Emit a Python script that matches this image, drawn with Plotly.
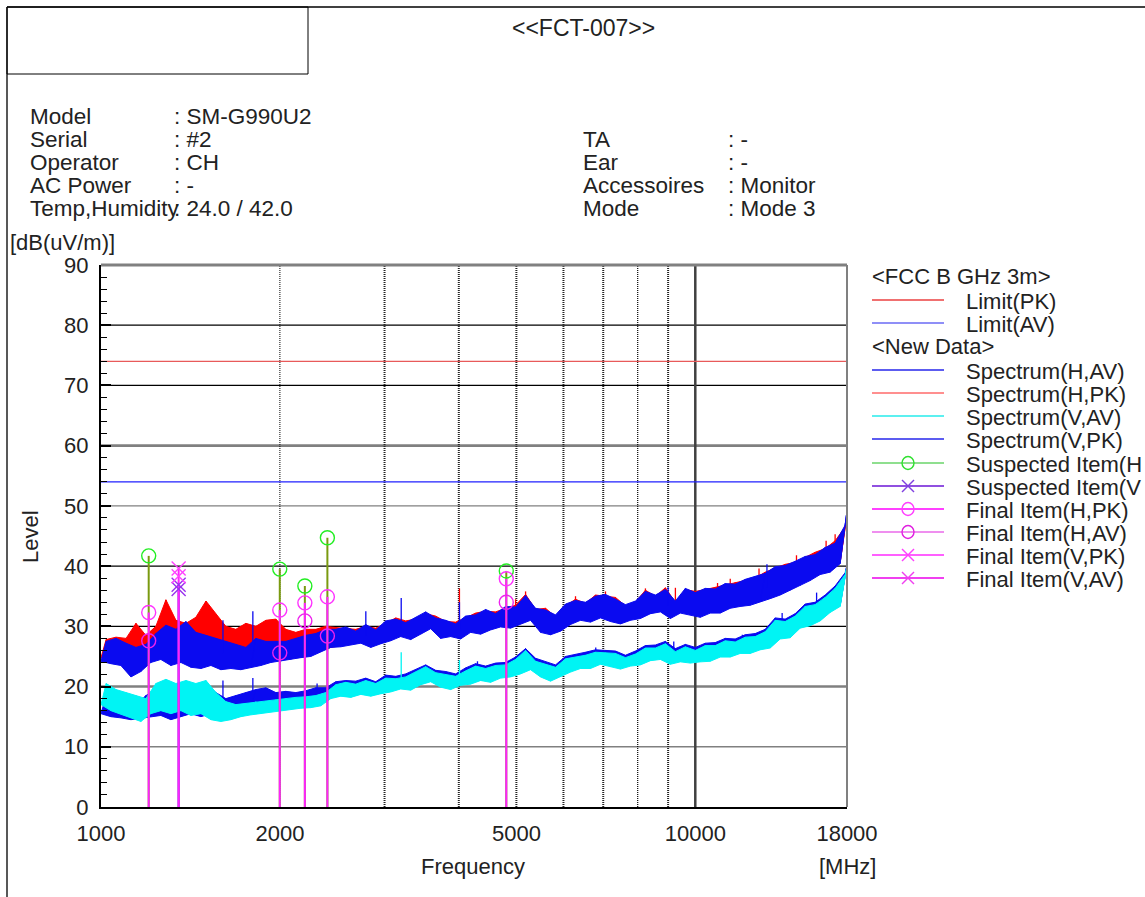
import plotly.graph_objects as go
import math

# ---------------- data ----------------
freq_mhz = [
    1000, 1020, 1039, 1060, 1080, 1102, 1123, 1145, 1167, 1190,
    1213, 1237, 1261, 1286, 1311, 1337, 1363, 1390, 1417, 1444,
    1473, 1502, 1531, 1561, 1591, 1622, 1654, 1686, 1719, 1753,
    1787, 1822, 1858, 1894, 1931, 1969, 2007, 2046, 2086, 2127,
    2169, 2211, 2254, 2298, 2343, 2389, 2436, 2483, 2532, 2581,
    2632, 2683, 2736, 2789, 2844, 2899, 2956, 3014, 3072, 3133,
    3194, 3256, 3320, 3385, 3451, 3518, 3587, 3657, 3728, 3801,
    3876, 3951, 4028, 4107, 4187, 4269, 4353, 4438, 4524, 4613,
    4703, 4795, 4889, 4984, 5081, 5181, 5282, 5385, 5490, 5598,
    5707, 5819, 5932, 6048, 6166, 6287, 6410, 6535, 6663, 6793,
    6926, 7061, 7199, 7340, 7483, 7629, 7778, 7930, 8085, 8243,
    8404, 8569, 8736, 8907, 9081, 9258, 9439, 9623, 9812, 10003,
    10194, 10394, 10597, 10804, 11015, 11230, 11450, 11673, 11901, 12134,
    12371, 12613, 12860, 13111, 13367, 13628, 13895, 14166, 14443, 14725,
    15013, 15306, 15605, 15910, 16221, 16538, 16861, 17190, 17526, 17869,
    18000,
]

# sweep readings: even index = lower edge of the trace, odd index = upper edge
spec_v_pk = [
    24.2, 27.5, 23.8, 28.0, 23.5, 27.2, 21.6, 26.5, 22.5, 27.0,
    24.0, 28.8, 24.5, 30.2, 23.5, 29.5, 24.0, 30.8, 23.2, 29.0,
    23.0, 28.5, 23.5, 28.0, 22.8, 27.5, 23.0, 27.0, 22.8, 26.5,
    23.2, 28.0, 23.5, 27.5, 24.0, 27.5, 24.2, 27.5, 24.5, 28.0,
    24.8, 28.5, 25.0, 28.8, 25.8, 29.5, 26.5, 29.5,
    26.6, 29.9, 26.9, 29.2, 27.2, 30.3, 26.5, 29.4, 27.1, 30.9, 27.6, 31.2,
    28.3, 30.6, 27.8, 31.5, 28.7, 32.4, 29.6, 31.4, 28.0, 31.0, 28.3, 30.4,
    27.9, 31.7, 29.0, 31.9, 28.7, 32.8, 29.4, 32.1, 29.9, 33.3, 29.7, 33.2,
    30.4, 35.1, 31.0, 33.0, 29.0, 32.7, 28.6, 31.9, 29.2, 33.7, 30.3, 34.3,
    31.0, 34.0, 30.7, 35.0, 31.4, 35.3, 30.8, 34.5, 30.4, 33.6, 31.0, 34.2,
    31.3, 35.8, 32.1, 35.2, 32.4, 36.1, 31.3, 34.2, 32.2, 36.3, 31.9, 35.6,
    31.5, 36.3, 32.2, 36.2, 32.2, 37.1, 33.0, 37.0, 33.3, 37.8, 33.5, 38.3,
    34.1, 38.8, 34.6, 39.9, 35.2, 40.1, 36.0, 40.8, 36.8, 41.6, 37.6, 41.9,
    38.6, 43.1, 39.0, 43.8, 40.4, 46.8, 49.2,
]
spec_h_pk = [
    24.8, 27.8, 24.2, 28.2, 24.8, 28.0, 24.5, 30.5, 25.0, 28.5,
    25.5, 30.0, 25.0, 34.4, 25.5, 31.0, 24.8, 30.5, 25.5, 31.5,
    25.5, 34.2, 26.0, 32.0, 25.2, 30.0, 24.8, 29.5, 25.0, 30.5,
    25.5, 30.0, 25.8, 31.0, 26.0, 31.2, 25.5, 29.5, 25.5, 29.0,
    25.5, 29.5, 25.8, 29.5, 26.0, 30.0, 26.5, 29.8,
    26.9, 29.6, 27.1, 29.5, 27.4, 30.0, 26.8, 29.7, 27.3, 30.5, 27.9, 31.4,
    28.5, 30.9, 28.0, 31.2, 28.9, 32.1, 29.8, 31.7, 28.2, 30.8, 28.5, 30.7,
    28.1, 31.4, 29.2, 32.2, 28.9, 32.5, 29.6, 32.4, 30.1, 33.0, 29.9, 33.5,
    30.6, 35.3, 31.2, 32.8, 29.2, 33.0, 28.8, 31.6, 29.4, 33.4, 30.5, 34.5,
    31.2, 33.8, 30.9, 35.2, 31.6, 35.0, 31.0, 34.8, 30.6, 33.4, 31.2, 34.0,
    31.5, 36.0, 32.3, 35.0, 32.6, 36.4, 31.5, 34.0, 32.4, 36.1, 32.1, 35.8,
    31.7, 36.1, 32.4, 36.5, 32.4, 36.9, 33.2, 37.3, 33.5, 37.6, 33.7, 38.0,
    34.3, 39.0, 34.8, 39.7, 35.4, 40.3, 36.2, 40.6, 37.0, 41.4, 37.8, 42.3,
    38.8, 42.9, 39.2, 44.2, 40.6, 46.5, 48.5,
]
spec_v_av = [
    17.0, 20.5, 16.0, 19.5, 15.5, 19.0, 14.8, 18.5, 14.2, 18.0,
    15.5, 20.5, 16.0, 21.2, 15.5, 20.5, 16.0, 21.0, 15.2, 20.5,
    15.5, 21.0, 14.5, 19.0, 14.2, 17.5, 14.5, 17.0, 15.0, 17.2,
    15.3, 17.5, 15.5, 17.6, 15.8, 17.8, 16.0, 18.0, 16.2, 18.2,
    16.4, 18.3, 16.5, 18.5, 16.8, 19.0,
    18.0, 20.3, 18.4, 20.7, 18.2, 20.4, 18.7, 21.0, 18.4, 20.5, 18.8, 21.4, 19.1, 21.3,
    19.6, 21.6, 19.4, 22.4, 20.3, 23.3, 20.8, 22.3, 19.9, 22.0, 19.5, 21.7,
    20.2, 22.6, 20.4, 23.4, 21.0, 23.0, 20.7, 23.5, 21.4, 23.6, 21.6, 24.5,
    22.1, 26.0, 22.8, 24.2, 21.6, 23.7, 20.9, 23.2, 21.6, 24.6, 22.4, 24.9,
    23.0, 25.2, 23.0, 25.7, 23.7, 25.6, 23.3, 25.5, 22.9, 24.8, 23.4, 25.4,
    23.6, 26.4, 24.3, 26.4, 24.5, 27.1, 23.7, 25.8, 24.1, 26.6, 23.9, 26.0,
    24.1, 26.8, 24.2, 26.8, 24.9, 27.6, 24.9, 27.4, 25.5, 28.2, 25.5, 28.3,
    26.1, 29.1, 26.4, 31.0, 27.9, 30.8, 28.1, 31.7, 29.7, 33.3, 30.1, 33.6,
    30.9, 34.8, 32.3, 36.3, 33.3, 38.6, 40.0,
]
spec_h_av = [
    15.5, 18.5, 15.0, 18.0, 14.8, 17.8, 14.5, 17.0, 14.8, 18.5,
    15.0, 19.5, 15.2, 18.5, 14.5, 19.0, 15.0, 20.0, 15.5, 19.5,
    15.0, 20.5, 15.5, 19.0, 15.0, 18.0, 15.5, 18.5, 16.0, 19.0,
    16.5, 19.5, 16.8, 19.8, 16.5, 19.0, 17.0, 19.2, 17.0, 19.0,
    17.0, 19.3, 17.2, 19.8, 17.5, 19.8,
    18.2, 20.8, 18.5, 21.0, 18.4, 20.9, 18.8, 21.4, 18.6, 20.8, 18.9, 21.9, 19.3, 21.7,
    19.8, 22.1, 19.6, 22.8, 20.4, 23.6, 21.0, 22.7, 20.1, 22.5, 19.7, 22.1,
    20.4, 23.1, 20.6, 23.8, 21.1, 23.4, 20.9, 23.9, 21.6, 24.0, 21.8, 24.9,
    22.3, 26.3, 23.0, 24.7, 21.8, 24.1, 21.1, 23.6, 21.8, 25.0, 22.6, 25.3,
    23.2, 25.7, 23.2, 26.1, 23.9, 26.0, 23.5, 25.9, 23.1, 25.2, 23.6, 25.9,
    23.8, 26.8, 24.5, 26.9, 24.7, 27.5, 23.9, 26.3, 24.3, 27.0, 24.1, 26.5,
    24.3, 27.2, 24.4, 27.3, 25.1, 28.0, 25.1, 27.9, 25.7, 28.6, 25.7, 28.8,
    26.3, 29.5, 26.6, 31.4, 28.1, 31.2, 28.3, 32.1, 29.9, 33.7, 30.3, 34.0,
    31.1, 35.2, 32.5, 36.7, 33.5, 38.9, 40.2,
]

# isolated single-sample spikes (frequency, foot, tip)
spike_h_pk_f = [4010, 4984, 5181, 6287, 7061, 8243, 9258, 10900, 11450, 12800, 14800, 16600, 17190]
spike_h_pk_lo = [29.5, 31.5, 32.0, 32.5, 33.0, 33.5, 33.5, 34.0, 34.5, 36.0, 38.5, 40.5, 41.5]
spike_h_pk_hi = [36.3, 34.5, 35.8, 35.0, 35.8, 36.3, 36.4, 37.2, 37.9, 39.6, 41.8, 44.2, 45.3]
spike_v_pk_f = [1604, 1801, 2790, 3200, 4010, 9000, 13200]
spike_v_pk_lo = [25.5, 26.0, 28.5, 29.0, 29.5, 33.5, 36.5]
spike_v_pk_hi = [31.0, 32.5, 32.5, 34.7, 34.0, 36.5, 40.3]
spike_h_av_f = [1604, 1801, 2310, 4300, 6800, 9200, 12000, 14000, 16000]
spike_h_av_lo = [17.5, 18.0, 19.0, 21.5, 24.0, 25.0, 26.0, 29.0, 32.0]
spike_h_av_hi = [21.0, 21.4, 20.5, 24.2, 26.5, 27.5, 28.6, 32.2, 35.6]
spike_v_av_f = [3200, 4010]
spike_v_av_lo = [20.5, 21.5]
spike_v_av_hi = [25.7, 24.4]

limit_f = [1000, 18000]
limit_pk = [74, 74]
limit_av = [54, 54]

susp_h_f = [1203, 1999, 2203, 2404, 4808]
susp_h_v = [41.7, 39.5, 36.7, 44.7, 39.2]
susp_v_f = [1351, 1351]
susp_v_v = [36.9, 36.2]
final_h_f = [1203, 1999, 2203, 2404, 4808]
final_h_pk = [32.3, 32.7, 33.9, 34.9, 37.9]
final_h_av = [27.6, 25.6, 30.9, 28.4, 34.0]
final_v_f = [1351]
final_v_pk = [39.6]
final_v_av = [38.3]

x_tick_vals = [1000, 2000, 5000, 10000, 18000]
x_tick_text = ["1000", "2000", "5000", "10000", "18000"]
y_tick_vals = [0, 10, 20, 30, 40, 50, 60, 70, 80, 90]
x_grid_f = [2000, 3000, 4000, 5000, 6000, 7000, 8000, 9000, 10000]

info_left = [("Model", ": SM-G990U2"), ("Serial", ": #2"), ("Operator", ": CH"),
             ("AC Power", ": -"), ("Temp,Humidity", ": 24.0 / 42.0")]
info_right = [("TA", ": -"), ("Ear", ": -"), ("Accessoires", ": Monitor"), ("Mode", ": Mode 3")]

# ---------------- geometry helpers (pixel -> paper) ----------------
W, H = 1145, 897
L, R, T, B = 101, 847, 265, 807
FONT = "Liberation Sans, Arial, sans-serif"


def px(x):
    return (x - L) / (R - L)


def py(y):
    return (B - y) / (B - T)


fig = go.Figure()

# vertical grid lines (drawn first so that they sit under the data)
grid_style = {2000: ("#000000", 1, "1px,1px"), 8000: ("#000000", 1.2, "1px,1px"),
              10000: ("#404040", 2.5, "solid")}
for fv in x_grid_f:
    c, w, d = grid_style.get(fv, ("#222222", 2, "1px,1px"))
    fig.add_trace(go.Scatter(x=[fv, fv], y=[0, 90], mode="lines", line=dict(color=c, width=w, dash=d),
                             hoverinfo="skip", showlegend=False))

# limit lines
fig.add_trace(go.Scatter(x=limit_f, y=limit_pk, mode="lines", line=dict(color="#e85a5a", width=1.3),
                         hoverinfo="skip", showlegend=False))
fig.add_trace(go.Scatter(x=limit_f, y=limit_av, mode="lines", line=dict(color="#2020ff", width=1.3),
                         hoverinfo="skip", showlegend=False))


def add_band(f, v, color):
    xs = f[1::2] + f[0::2][::-1]
    ys = v[1::2] + v[0::2][::-1]
    fig.add_trace(go.Scatter(x=xs, y=ys, mode="lines", fill="toself", fillcolor=color,
                             line=dict(color=color, width=1), hoverinfo="skip", showlegend=False))
    fig.add_trace(go.Scatter(x=f, y=v, mode="lines", line=dict(color=color, width=1),
                             hoverinfo="skip", showlegend=False))


def add_spikes(f, lo, hi, color, width=1.3):
    xs, ys = [], []
    for a, b, c in zip(f, lo, hi):
        xs += [a, a, None]
        ys += [b, c, None]
    fig.add_trace(go.Scatter(x=xs, y=ys, mode="lines", line=dict(color=color, width=width),
                             hoverinfo="skip", showlegend=False))


BLUE = "#0a0af0"
RED = "#ff0000"
CYAN = "#00f4f4"

add_band(freq_mhz, spec_h_av, BLUE)
add_spikes(spike_h_av_f, spike_h_av_lo, spike_h_av_hi, BLUE)
add_band(freq_mhz, spec_h_pk, RED)
add_spikes(spike_h_pk_f, spike_h_pk_lo, spike_h_pk_hi, RED)
add_band(freq_mhz, spec_v_av, CYAN)
add_spikes(spike_v_av_f, spike_v_av_lo, spike_v_av_hi, CYAN)
add_band(freq_mhz, spec_v_pk, BLUE)
add_spikes(spike_v_pk_f, spike_v_pk_lo, spike_v_pk_hi, BLUE)


def stems(f, v, color, width):
    xs, ys = [], []
    for a, b in zip(f, v):
        xs += [a, a, None]
        ys += [0, b, None]
    fig.add_trace(go.Scatter(x=xs, y=ys, mode="lines", line=dict(color=color, width=width),
                             hoverinfo="skip", showlegend=False))


stems(susp_h_f, susp_h_v, "#7a9a10", 2)
stems(susp_v_f, susp_v_v, "#9040e0", 2)
stems(final_h_f, final_h_pk, "#ff22ff", 2)
stems(final_v_f, final_v_pk, "#ff22ff", 2)


def marks(f, v, symbol, color):
    fig.add_trace(go.Scatter(x=f, y=v, mode="markers",
                             marker=dict(symbol=symbol, size=14, color=color, line=dict(color=color, width=1.4)),
                             hoverinfo="skip", showlegend=False))


marks(susp_h_f, susp_h_v, "circle-open", "#22ee22")
marks(final_h_f, final_h_pk, "circle-open", "#ff33ff")
marks(final_h_f, final_h_av, "circle-open", "#ee22ee")
marks(susp_v_f, susp_v_v, "x-thin-open", "#9933ee")
marks(final_v_f, final_v_pk, "x-thin-open", "#ff44ff")
marks(final_v_f, final_v_av, "x-thin-open", "#ff44ff")

shapes = []
ann = []

# horizontal grid lines
hgrid = {80: ("#000000", 1.2), 70: ("#000000", 1.2), 40: ("#000000", 1.2), 30: ("#000000", 1.2),
         60: ("#808080", 2.6), 20: ("#808080", 2.6), 50: ("#808080", 1.4), 10: ("#808080", 1.4)}
for yv, (c, w) in hgrid.items():
    shapes.append(dict(type="line", xref="paper", yref="y", x0=0, x1=1, y0=yv, y1=yv,
                       line=dict(color=c, width=w), layer="below"))
# top and right frame of plot
shapes.append(dict(type="line", xref="paper", yref="paper", x0=0, x1=1, y0=1, y1=1,
                   line=dict(color="#808080", width=3)))
shapes.append(dict(type="line", xref="paper", yref="paper", x0=1, x1=1, y0=0, y1=1,
                   line=dict(color="#808080", width=2)))

# page frame and header box
shapes.append(dict(type="line", xref="paper", yref="paper", x0=px(7), x1=px(1145), y0=py(7), y1=py(7),
                   line=dict(color="#404040", width=2)))
shapes.append(dict(type="line", xref="paper", yref="paper", x0=px(7), x1=px(7), y0=py(7), y1=py(897),
                   line=dict(color="#202020", width=1.5)))
shapes.append(dict(type="rect", xref="paper", yref="paper", x0=px(7), x1=px(308), y0=py(7), y1=py(74),
                   line=dict(color="#000000", width=1)))


def text(x, y, s, anchor="left", size=22, angle=0):
    ann.append(dict(xref="paper", yref="paper", x=px(x), y=py(y), text=s, showarrow=False,
                    xanchor=anchor, yanchor="middle", textangle=angle,
                    font=dict(family=FONT, size=size, color="#222222")))


text(583, 28, "&lt;&lt;FCT-007&gt;&gt;", "center", 23)
row_y = [116, 139, 162, 185, 208]
for (k, v), y in zip(info_left, row_y):
    text(28, y, k, size=22.5)
    text(172, y, v, size=22.5)
for (k, v), y in zip(info_right, row_y[1:]):
    text(581, y, k, size=22.5)
    text(726, y, v, size=22.5)
text(8, 242, "[dB(uV/m)]", size=22)
text(30, 537, "Level", "center", 22, -90)
text(473, 866, "Frequency", "center")
text(847, 866, "[MHz]", "center")

# legend (drawn by hand like the original report)
leg_rows = [
    (276, "&lt;FCC B GHz 3m&gt;", None),
    (300, "Limit(PK)", ("#f07070", 2, None)),
    (323, "Limit(AV)", ("#2020f0", 1.2, None)),
    (346, "&lt;New Data&gt;", None),
    (370, "Spectrum(H,AV)", ("#5c5cf0", 2, None)),
    (393, "Spectrum(H,PK)", ("#ff2020", 1.2, None)),
    (416, "Spectrum(V,AV)", ("#5cf0f0", 2, None)),
    (439, "Spectrum(V,PK)", ("#5c5cf0", 2, None)),
    (463, "Suspected Item(H", ("#20c020", 1.2, ("o", "#30e030"))),
    (486, "Suspected Item(V", ("#9050e0", 2, ("x", "#8040e0"))),
    (509, "Final Item(H,PK)", ("#ff40ff", 2, ("o", "#ff40ff"))),
    (532, "Final Item(H,AV)", ("#e020e0", 1.2, ("o", "#e020e0"))),
    (555, "Final Item(V,PK)", ("#ff60ff", 2, ("x", "#ff40ff"))),
    (578, "Final Item(V,AV)", ("#f040f0", 2, ("x", "#f040f0"))),
]
for y, label, sample in leg_rows:
    if sample is None:
        text(870, y, label)
        continue
    c, w, mk = sample
    shapes.append(dict(type="line", xref="paper", yref="paper", x0=px(872), x1=px(944), y0=py(y), y1=py(y),
                       line=dict(color=c, width=w)))
    if mk:
        kind, mc = mk
        if kind == "o":
            shapes.append(dict(type="circle", xref="paper", yref="paper", x0=px(902), x1=px(914),
                               y0=py(y - 6.5), y1=py(y + 6.5), line=dict(color=mc, width=1.4)))
        else:
            shapes.append(dict(type="line", xref="paper", yref="paper", x0=px(902), x1=px(914),
                               y0=py(y - 6), y1=py(y + 6), line=dict(color=mc, width=1.4)))
            shapes.append(dict(type="line", xref="paper", yref="paper", x0=px(902), x1=px(914),
                               y0=py(y + 6), y1=py(y - 6), line=dict(color=mc, width=1.4)))
    text(964, y + 1, label)

fig.update_layout(
    width=W, height=H,
    margin=dict(l=L, r=W - R, t=T, b=H - B, pad=0),
    paper_bgcolor="white", plot_bgcolor="white",
    font=dict(family=FONT, size=22, color="#222222"),
    shapes=shapes, annotations=ann, showlegend=False,
    xaxis=dict(type="log", range=[3, math.log10(18000)], showgrid=False, zeroline=False,
               tickvals=x_tick_vals, ticktext=x_tick_text, ticks="", showline=True,
               linecolor="#000000", linewidth=2, ticklabelstandoff=6,
               tickfont=dict(family=FONT, size=22, color="#222222")),
    yaxis=dict(range=[0, 90], tickvals=y_tick_vals, showgrid=False, zeroline=False,
               ticks="inside", ticklen=10, tickwidth=2, tickcolor="#000000",
               minor=dict(dtick=2, ticks="inside", ticklen=6, tickwidth=1.2, tickcolor="#000000", showgrid=False),
               showline=True, linecolor="#000000", linewidth=2, ticklabelstandoff=6,
               tickfont=dict(family=FONT, size=22, color="#222222")),
)

fig.write_html("out.html", config={"displayModeBar": False},
               post_script="document.body.style.margin='0px';")
